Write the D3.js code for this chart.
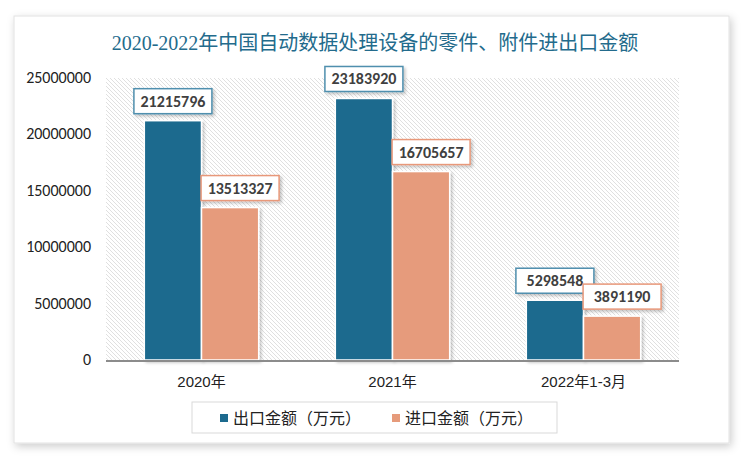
<!DOCTYPE html>
<html>
<head>
<meta charset="utf-8">
<script src="https://cdn.jsdelivr.net/npm/d3@7"></script>
<style>
  html, body { margin: 0; padding: 0; background: #fff; }
  svg { display: block; }
</style>
</head>
<body>
<div id="graph"></div>
<script>
var title = '2020-2022年中国自动数据处理设备的零件、附件进出口金额'
var categories = ['2020年', '2021年', '2022年1-3月']
var seriesNames = ['出口金额（万元）', '进口金额（万元）']
var exportValues = [21215796, 23183920, 5298548]
var importValues = [13513327, 16705657, 3891190]
var yTicks = [0, 5000000, 10000000, 15000000, 20000000, 25000000]

var colors = ['#1c6a8e', '#e69b7b']

var W = 750, H = 461
var svg = d3.select('#graph').append('svg').attr('width', W).attr('height', H)

var defs = svg.append('defs')
var shadow = defs.append('filter').attr('id', 'card-shadow')
  .attr('x', '-5%').attr('y', '-5%').attr('width', '110%').attr('height', '115%')
shadow.append('feDropShadow').attr('dx', 2).attr('dy', 3).attr('stdDeviation', 4)
  .attr('flood-color', '#000').attr('flood-opacity', 0.2)

var bshadow = defs.append('filter').attr('id', 'bar-shadow')
  .attr('x', '-20%').attr('y', '-20%').attr('width', '150%').attr('height', '150%')
bshadow.append('feDropShadow').attr('dx', 2).attr('dy', 2).attr('stdDeviation', 1.5)
  .attr('flood-color', '#000').attr('flood-opacity', 0.22)

var pat = defs.append('pattern').attr('id', 'hatch')
  .attr('patternUnits', 'userSpaceOnUse').attr('width', 4).attr('height', 4)
pat.append('rect').attr('width', 4).attr('height', 4).attr('fill', '#fff')
pat.append('path').attr('d', 'M-1,-1L5,5M-1,3L1,5M3,-1L5,1')
  .attr('stroke', '#e0e0e0').attr('stroke-width', 1)

// card
svg.append('rect')
  .attr('x', 14).attr('y', 16).attr('width', 715).attr('height', 427)
  .attr('fill', '#fff').attr('stroke', '#e2e2e2').attr('stroke-width', 1)
  .attr('filter', 'url(#card-shadow)')

svg.append('text')
  .attr('x', 375).attr('y', 50)
  .attr('text-anchor', 'middle')
  .attr('fill', '#236b8c')
  .attr('font-family', '"Liberation Serif", "Noto Sans CJK SC", serif')
  .attr('font-size', 20)
  .text(title)

var margin = {left: 106, right: 71, top: 78, bottom: 101}
var x0 = d3.scaleBand().domain(categories).range([margin.left, W - margin.right])
var x1 = d3.scaleBand().domain([0, 1]).range([0, x0.bandwidth()]).paddingOuter(0.67)
var y = d3.scaleLinear().domain([0, 25000000]).range([H - margin.bottom, margin.top])

var g = svg.append('g')

g.append('rect')
  .attr('x', margin.left).attr('y', margin.top)
  .attr('width', W - margin.right - margin.left)
  .attr('height', y(0) - margin.top)
  .attr('fill', 'url(#hatch)')

// y tick labels
g.selectAll('text.ytick').data(yTicks).join('text')
  .attr('class', 'ytick')
  .attr('x', 91).attr('y', d => y(d) + 5)
  .attr('text-anchor', 'end')
  .attr('fill', '#222')
  .attr('font-family', 'Carlito, "Liberation Sans", "Noto Sans", sans-serif')
  .attr('font-size', 16)
  .text(d => d)

var data = categories.map((c, i) => ({c, vals: [exportValues[i], importValues[i]]}))

var grp = g.selectAll('g.cat').data(data).join('g')
  .attr('class', 'cat')
  .attr('transform', d => 'translate(' + x0(d.c) + ',0)')

grp.selectAll('rect.bar').data(d => d.vals.map((v, k) => ({v, k}))).join('rect')
  .attr('class', 'bar')
  .attr('x', d => x1(d.k))
  .attr('width', x1.bandwidth())
  .attr('y', d => y(d.v))
  .attr('height', d => y(0) - y(d.v))
  .attr('fill', d => colors[d.k])
  .attr('stroke', '#fff').attr('stroke-width', 1.5)
  .attr('filter', 'url(#bar-shadow)')

// axis baseline
g.append('line')
  .attr('x1', margin.left).attr('x2', W - margin.right)
  .attr('y1', y(0) + 1).attr('y2', y(0) + 1)
  .attr('stroke', '#8c8c8c').attr('stroke-width', 2)

// category labels
g.selectAll('text.xlab').data(categories).join('text')
  .attr('class', 'xlab')
  .attr('x', d => x0(d) + x0.bandwidth() / 2)
  .attr('y', 387)
  .attr('text-anchor', 'middle')
  .attr('fill', '#222')
  .attr('font-family', '"Liberation Sans", "Noto Sans CJK SC", sans-serif')
  .attr('font-size', 15)
  .text(d => d)

// value labels
var lab = grp.selectAll('g.lab').data(d => d.vals.map((v, k) => ({v, k}))).join('g')
  .attr('class', 'lab')
  .attr('transform', d => 'translate(' + (x1(d.k) + x1.bandwidth() / 2 + (d.k ? 10 : 0)) + ',' + (y(d.v) - 20) + ')')

lab.append('rect')
  .attr('x', -39).attr('y', -12).attr('width', 78).attr('height', 25)
  .attr('fill', '#fff')
  .attr('stroke', d => d.k ? '#e8987a' : '#4f8fae')
  .attr('stroke-width', 1.5)
  .attr('filter', 'url(#bar-shadow)')

lab.append('text')
  .attr('y', 6)
  .attr('text-anchor', 'middle')
  .attr('fill', '#404040')
  .attr('font-family', 'Carlito, "Liberation Sans", "Noto Sans", sans-serif')
  .attr('font-weight', 'bold')
  .attr('font-size', 16)
  .text(d => d.v)

// legend
var leg = svg.append('g')
leg.append('rect')
  .attr('x', 192).attr('y', 402).attr('width', 365).attr('height', 31)
  .attr('fill', '#fff').attr('stroke', '#d9d9d9').attr('stroke-width', 1)

var legX = [220, 392]
var li = leg.selectAll('g.li').data(seriesNames).join('g')
  .attr('class', 'li')
  .attr('transform', (d, i) => 'translate(' + legX[i] + ',418)')
li.append('rect').attr('x', 0).attr('y', -4).attr('width', 8).attr('height', 8)
  .attr('fill', (d, i) => colors[i])
li.append('text')
  .attr('x', 13).attr('y', 6)
  .attr('fill', '#222')
  .attr('font-family', '"Noto Sans CJK SC", sans-serif')
  .attr('font-size', 16)
  .text(d => d)
</script>
</body>
</html>
